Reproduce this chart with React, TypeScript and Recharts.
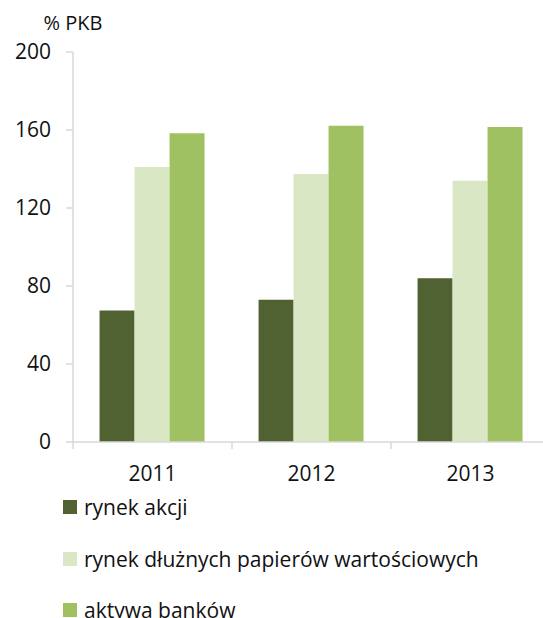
import React from 'react';
import { BarChart, Bar, XAxis, YAxis, Legend } from 'recharts';

const categories = ['2011', '2012', '2013'];
const rynekAkcji = [67.5, 73, 84];
const rynekDluznych = [141, 137.5, 134];
const aktywaBankow = [158.3, 162.2, 161.5];
const yTicks = [0, 40, 80, 120, 160, 200];

const seriesNames = ['rynek akcji', 'rynek dłużnych papierów wartościowych', 'aktywa banków'];
const seriesKeys = ['akcje', 'dluzne', 'banki'];
const colors = ['#506132', '#d9e7c4', '#a0c162'];

const data = categories.map((c, i) => ({
  name: c,
  akcje: rynekAkcji[i],
  dluzne: rynekDluznych[i],
  banki: aktywaBankow[i],
}));

const FONT = "'Open Sans', sans-serif";
const AXIS_COLOR = '#d9d9d9';

const XTick = (props: any) => {
  const { x, y, payload, index, visibleTicksCount } = props;
  const half = payload.offset || 0;
  const axisY = y - 9;
  return (
    <g>
      <line x1={x - half} x2={x - half} y1={axisY} y2={axisY + 7} stroke={AXIS_COLOR} strokeWidth={1.5} />
      {index === visibleTicksCount - 1 && (
        <line x1={x + half} x2={x + half} y1={axisY} y2={axisY + 7} stroke={AXIS_COLOR} strokeWidth={1.5} />
      )}
      <text x={x} y={axisY + 31} textAnchor="middle" dominantBaseline="central" fontFamily={FONT} fontSize={21} fill="#111">
        {payload.value}
      </text>
    </g>
  );
};

const LegendContent = () => (
  <div style={{ fontFamily: FONT, fontSize: 21, color: '#111', height: 130 }}>
    {seriesNames.map((n, i) => (
      <div key={n} style={{ position: 'absolute', left: 63, top: 19 + i * 51.5 - 15, height: 30, display: 'flex', alignItems: 'center', whiteSpace: 'nowrap' }}>
        <span style={{ display: 'inline-block', width: 14, height: 14, background: colors[i], marginRight: 7 }} />
        <span>{n}</span>
      </div>
    ))}
  </div>
);

export default function App() {
  return (
    <div style={{ position: 'absolute', left: 0, top: 0, width: 543, height: 618, overflow: 'hidden', background: '#fff' }}>
      <BarChart
        width={560}
        height={618}
        data={data}
        margin={{ top: 52, right: 10, left: 0, bottom: 0 }}
        barCategoryGap="16.7%"
        barGap={0}
      >
        <XAxis
          dataKey="name"
          height={46}
          tickSize={7}
          tickMargin={2}
          tickLine={false}
          axisLine={{ stroke: AXIS_COLOR, strokeWidth: 1.5 }}
          tick={<XTick />}
          interval={0}
        />
        <YAxis
          width={73}
          domain={[0, 200]}
          ticks={yTicks}
          tickSize={7}
          tickMargin={15}
          axisLine={{ stroke: AXIS_COLOR, strokeWidth: 1.5 }}
          tickLine={{ stroke: AXIS_COLOR, strokeWidth: 1.5 }}
          tick={{ fontFamily: FONT, fontSize: 21, fill: '#111' }}
          label={{
            content: (p: any) => {
              const vb = p.viewBox || { x: 0, y: 52, width: 73 };
              return (
                <text x={vb.x + vb.width} y={vb.y - 30} textAnchor="middle" dominantBaseline="central" fontFamily={FONT} fontSize={20} fill="#111">
                  % PKB
                </text>
              );
            },
          }}
        />
        <Legend
          verticalAlign="bottom"
          layout="horizontal"
          content={<LegendContent />}
          wrapperStyle={{ left: 0, top: 488, width: 543, height: 130 }}
        />
        {seriesKeys.map((k, i) => (
          <Bar key={k} dataKey={k} name={seriesNames[i]} fill={colors[i]} isAnimationActive={false} />
        ))}
      </BarChart>
    </div>
  );
}
